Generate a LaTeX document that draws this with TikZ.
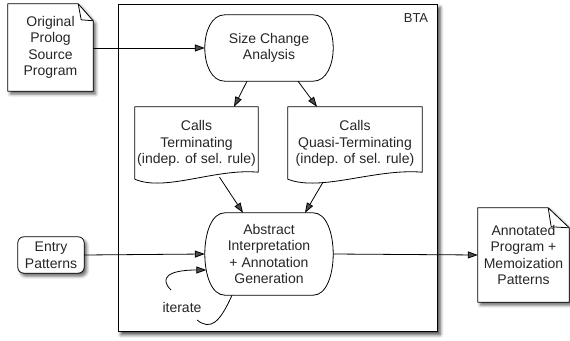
\documentclass[tikz,border=0pt]{standalone}
\usepackage{fontspec}
\setmainfont{Liberation Sans}
\usetikzlibrary{arrows.meta,shadows.blur,calc}

\pgfdeclarelayer{shapes}
\pgfsetlayers{shapes,main}

\tikzset{
  boxline/.style={draw=black, line width=0.8pt},
  dropshade/.style={blur shadow={shadow xshift=2.5pt, shadow yshift=-3pt,
      shadow blur radius=3pt, shadow opacity=60}},
  txt/.style={align=center, inner sep=0pt, text=black!85},
  flow/.style={line width=0.8pt, -{Triangle[length=10pt,width=7pt]}},
  plain/.style={line width=0.8pt},
}

% capsule with gently bulging sides around node #1, corner length #2
\newcommand\capsuleoutline[2]{%
  \begin{pgfonlayer}{shapes}
  \draw[boxline] ([xshift=#2]#1.north west) -- ([xshift=-#2]#1.north east)
    .. controls ([xshift=#2/3]#1.north east) and ([xshift=#2/3]#1.south east)
    .. ([xshift=-#2]#1.south east) -- ([xshift=#2]#1.south west)
    .. controls ([xshift=-#2/3]#1.south west) and ([xshift=-#2/3]#1.north west)
    .. cycle;
  \end{pgfonlayer}}

% page with a turned-down top right corner around node #1
\newcommand\foldeddoc[3]{%
  \begin{pgfonlayer}{shapes}
  \path[boxline, fill=white, dropshade, line join=round] (#1.north west)
    -- ([xshift=-#2]#1.north east) -- ([yshift=-#3]#1.north east)
    -- (#1.south east) -- (#1.south west) -- cycle;
  \draw[boxline, line join=round] ([xshift=-#2]#1.north east)
    .. controls ([xshift=-#2+1, yshift=-#3/2]#1.north east)
    .. ([xshift=-#2+3, yshift=-#3+1]#1.north east) -- ([yshift=-#3]#1.north east);
  \end{pgfonlayer}}

% document with a wavy lower edge around node #1
\newcommand\wavedoc[1]{%
  \begin{pgfonlayer}{shapes}
  \path[boxline, fill=white, line join=round] (#1.north west) -- (#1.north east)
    -- ([yshift=8]#1.south east)
    .. controls ($(#1.south west)!0.65!(#1.south east)+(0,-12)$)
       and ($(#1.south west)!0.245!(#1.south east)+(0,12)$)
    .. ([yshift=1]#1.south west) -- cycle;
  \end{pgfonlayer}}

% shadowed rounded box around node #1
\newcommand\roundbox[1]{%
  \begin{pgfonlayer}{shapes}
  \path[boxline, fill=white, dropshade, rounded corners=6pt]
    (#1.north west) rectangle (#1.south east);
  \end{pgfonlayer}}

\begin{document}
\begin{tikzpicture}[x=1pt, y=-1pt, font=\fontsize{14}{16.5}\selectfont]
\useasboundingbox (0,0) rectangle (570,340);

% the BTA frame, first on the shape layer so everything else lies above it
\coordinate (btanw) at (118,4);
\coordinate (btase) at (437,331);
\begin{pgfonlayer}{shapes}
\path[boxline, fill=white, blur shadow={shadow xshift=3pt, shadow yshift=-3.5pt,
      shadow blur radius=3.5pt, shadow opacity=75}] (btanw) rectangle (btase);
\end{pgfonlayer}
\node[txt, font=\fontsize{13}{15}\selectfont] (btalabel) at (416,18) {BTA};

% text holders
\node[txt, minimum width=85, minimum height=87] (orig) at (50.5,47.5)
  {Original\\Prolog\\Source\\Program};
\node[txt, minimum width=128, minimum height=66] (sca) at (269,48)
  {Size Change\\Analysis};
\node[txt, minimum width=123, minimum height=73] (t1) at (196.5,143.5)
  {Calls\\Terminating\\(indep. of sel. rule)};
\node[txt, minimum width=134, minimum height=73] (t2) at (355,143.5)
  {Calls\\Quasi-Terminating\\(indep. of sel. rule)};
\node[txt, minimum width=128, minimum height=82] (ai) at (269,254)
  {Abstract\\Interpretation\\+ Annotation\\Generation};
\node[txt, minimum width=66, minimum height=36] (entry) at (51,255)
  {Entry\\Patterns};
\node[txt, minimum width=91, minimum height=94] (out) at (523.5,255)
  {Annotated\\Program +\\Memoization\\Patterns};
\node[txt] (iter) at (182,307) {iterate};

% outlines
\foldeddoc{orig}{15}{17}
\foldeddoc{out}{21}{20}
\roundbox{entry}
\capsuleoutline{sca}{20}
\capsuleoutline{ai}{20}
\wavedoc{t1}
\wavedoc{t2}

% connectors
\draw[flow] (orig.east |- sca.west) -- (sca.west);
\draw[flow] ($(sca.south)+(-22,0)$) -- ($(t1.north)+(37.5,0)$);
\draw[flow] ($(sca.south)+(29,0)$) -- ($(t2.north)+(-38,0)$);
\draw[flow] ($(t1.south)+(23,-3)$) -- ($(ai.north)+(-26,0)$);
\draw[flow] ($(t2.south)+(-32,2)$) -- ($(ai.north)+(36,0)$);
\draw[flow] (entry.east) -- (ai.west);
\draw[flow] (ai.east) -- (out.west);

% iteration loop
\coordinate (loopend) at (197,320);
\coordinate (loopstart) at (171,290);
\draw[plain] ($(ai.south)+(-37,0)$) .. controls (220,322) and (211,331) .. (loopend);
\draw[flow] (loopstart) .. controls (159,278) and (168,270) .. ($(ai.west)+(1.5,16)$);
\end{tikzpicture}
\end{document}
